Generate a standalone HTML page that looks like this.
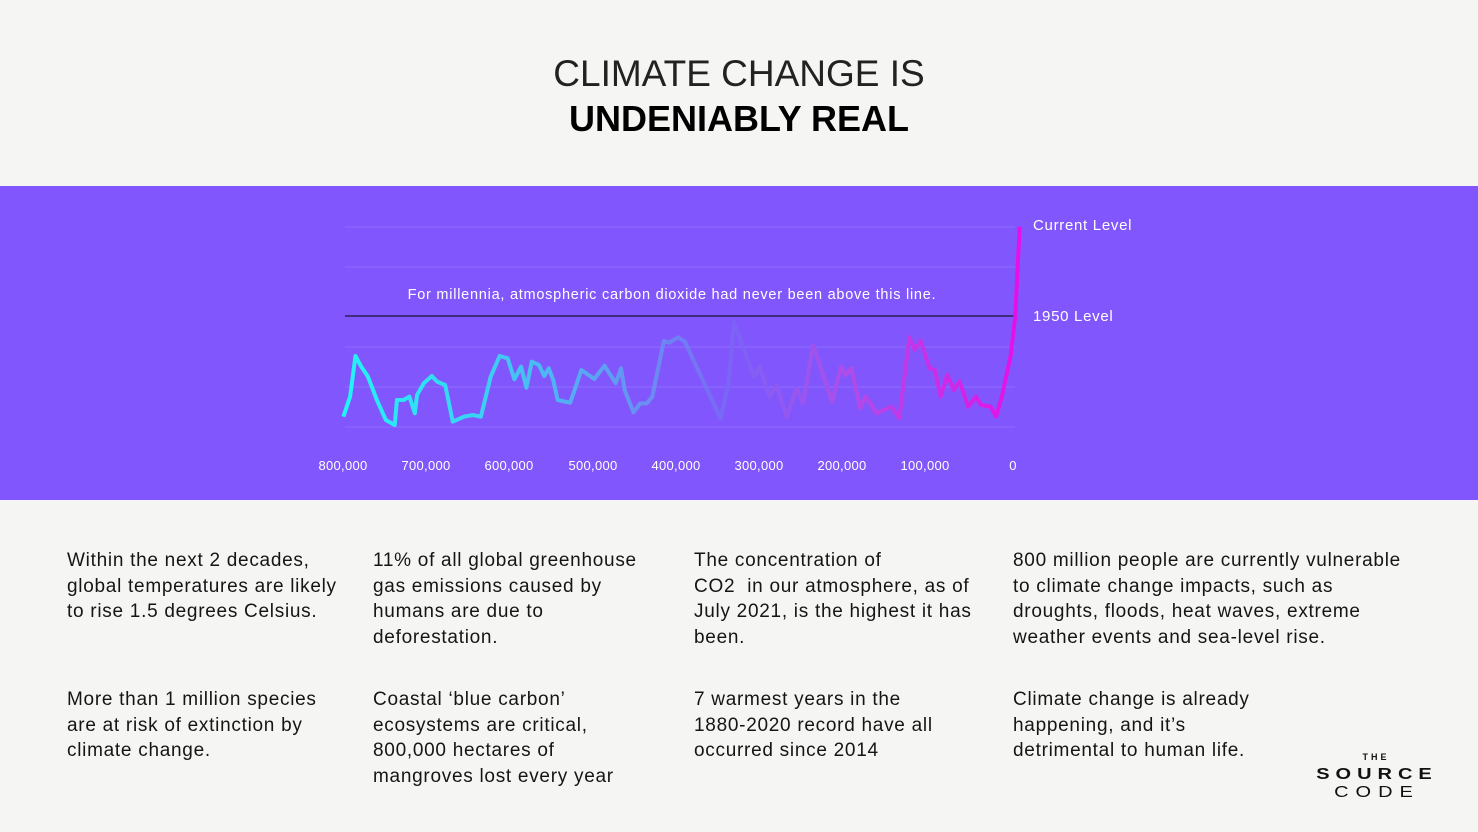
<!DOCTYPE html>
<html><head><meta charset="utf-8"><style>
body{margin:0;width:1478px;height:832px;background:#f5f5f4;font-family:"Liberation Sans",sans-serif;position:relative;overflow:hidden}
.t1{position:absolute;top:53px;left:0;width:1478px;text-align:center;font-size:37px;color:#222;letter-spacing:0px}
.t2{position:absolute;top:98px;left:0;width:1478px;text-align:center;font-size:36px;color:#000;font-weight:bold}
.band{position:absolute;top:186px;left:0;width:1478px;height:314px;background:#8157fd}
.p{position:absolute;font-size:19px;line-height:25.5px;color:#151515;letter-spacing:0.72px;white-space:nowrap}
</style></head><body>
<div class="t1">CLIMATE CHANGE IS</div>
<div class="t2">UNDENIABLY REAL</div>
<div class="band"></div>
<svg width="1478" height="832" style="position:absolute;left:0;top:0">
<defs><linearGradient id="g" x1="0" x2="1" y1="0" y2="0">
<stop offset="0" stop-color="#22f4f6"/><stop offset="0.2" stop-color="#3ad2f2"/><stop offset="0.45" stop-color="#6a8ef2"/><stop offset="0.58" stop-color="#7c62f6"/><stop offset="0.75" stop-color="#b04ce8"/><stop offset="1" stop-color="#e60fe6"/></linearGradient></defs>
<g stroke="#8f6cff" stroke-width="1">
<line x1="345" y1="227" x2="1015" y2="227"/><line x1="345" y1="267" x2="1015" y2="267"/>
<line x1="345" y1="347" x2="1015" y2="347"/><line x1="345" y1="387" x2="1015" y2="387"/><line x1="345" y1="427" x2="1015" y2="427"/></g>
<line x1="345" y1="316" x2="1015" y2="316" stroke="#2a1f55" stroke-width="1.5"/>
<g transform="translate(330,300) scale(0.4464,0.3333)">
<polyline fill="none" stroke="url(#g)" stroke-width="4" vector-effect="non-scaling-stroke" stroke-linejoin="round" points="30,350 45,290 57,168 70,200 85,230 105,300 125,360 145,375 150,300 165,300 178,290 190,340 195,285 210,250 228,228 240,245 258,255 275,365 300,350 320,345 338,350 360,230 380,168 398,175 413,238 428,200 440,263 452,185 468,195 480,228 490,205 500,240 510,300 538,308 548,270 563,210 592,237 615,197 640,250 652,205 660,270 680,337 695,310 710,310 722,290 748,123 760,128 780,112 795,125 875,355 893,250 905,68 950,230 962,200 985,290 1000,255 1023,350 1045,265 1060,310 1082,135 1125,305 1145,200 1155,225 1168,205 1188,325 1200,290 1225,340 1240,330 1258,320 1275,355 1298,112 1310,150 1323,122 1343,205 1355,210 1368,290 1383,225 1397,270 1410,245 1430,320 1447,290 1458,315 1480,320 1492,350 1505,290 1525,165 1535,50 1545,-220"/>
</g>
<g fill="#fff" font-family="Liberation Sans, sans-serif">
<text x="1033" y="230" font-size="15" letter-spacing="0.7">Current Level</text>
<text x="1033" y="321" font-size="15" letter-spacing="0.7">1950 Level</text>
<text x="672" y="299" font-size="14.5" letter-spacing="0.75" text-anchor="middle">For millennia, atmospheric carbon dioxide had never been above this line.</text>
<g font-size="13" letter-spacing="0.3" text-anchor="middle">
<text x="343" y="470">800,000</text><text x="426" y="470">700,000</text><text x="509" y="470">600,000</text><text x="593" y="470">500,000</text><text x="676" y="470">400,000</text><text x="759" y="470">300,000</text><text x="842" y="470">200,000</text><text x="925" y="470">100,000</text><text x="1013" y="470">0</text></g></g>
<g font-family="Liberation Sans, sans-serif" text-anchor="middle" fill="#111" font-weight="bold">
<text x="1376" y="760" font-size="9" letter-spacing="3">THE</text>
<text x="1377" y="779" font-size="20" letter-spacing="6" transform="translate(1375,0) scale(1,0.8) translate(-1375,195)">SOURCE</text>
<text x="1377" y="797" font-size="20" letter-spacing="7" font-weight="normal" transform="translate(1375,0) scale(1,0.8) translate(-1375,199)">CODE</text></g>
</svg>
<div class="p" style="left:67px;top:548px">Within the next 2 decades,<br>global temperatures are likely<br>to rise 1.5 degrees Celsius.</div>
<div class="p" style="left:373px;top:548px">11% of all global greenhouse<br>gas emissions caused by<br>humans are due to<br>deforestation.</div>
<div class="p" style="left:694px;top:548px">The concentration of<br>CO2 &nbsp;in our atmosphere, as of<br>July 2021, is the highest it has<br>been.</div>
<div class="p" style="left:1013px;top:548px">800 million people are currently vulnerable<br>to climate change impacts, such as<br>droughts, floods, heat waves, extreme<br>weather events and sea-level rise.</div>
<div class="p" style="left:67px;top:687px">More than 1 million species<br>are at risk of extinction by<br>climate change.</div>
<div class="p" style="left:373px;top:687px">Coastal ‘blue carbon’<br>ecosystems are critical,<br>800,000 hectares of<br>mangroves lost every year</div>
<div class="p" style="left:694px;top:687px">7 warmest years in the<br>1880-2020 record have all<br>occurred since 2014</div>
<div class="p" style="left:1013px;top:687px">Climate change is already<br>happening, and it’s<br>detrimental to human life.</div>
</body></html>
